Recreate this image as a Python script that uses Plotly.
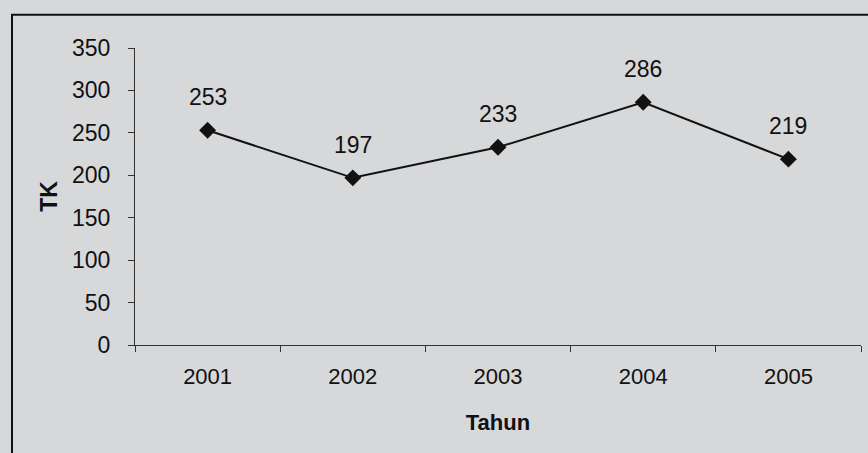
import plotly.graph_objects as go

years = ["2001", "2002", "2003", "2004", "2005"]
tk_values = [253, 197, 233, 286, 219]
y_ticks = [0, 50, 100, 150, 200, 250, 300, 350]

FONT = "Liberation Sans, Arial, sans-serif"
BG = "#d7d8da"

fig = go.Figure()
fig.add_trace(go.Scatter(
    x=years, y=tk_values, mode="lines+markers",
    line=dict(color="#111111", width=2),
    marker=dict(symbol="diamond", size=13, color="#111111"),
    showlegend=False, hoverinfo="skip",
))

for i, v in enumerate(tk_values):
    fig.add_annotation(x=i, y=v, text=str(v), showarrow=False, yshift=33,
                       font=dict(family=FONT, size=23, color="#111111"))

# outer border of the printed chart box
fig.add_shape(type="rect", xref="paper", yref="paper",
              x0=-0.1694, x1=1.2, y0=-0.6, y1=1.112,
              line=dict(color="#111111", width=2), fillcolor="rgba(0,0,0,0)",
              layer="below")

fig.update_layout(
    width=868, height=453,
    margin=dict(l=135, r=7, t=48, b=108, autoexpand=False),
    paper_bgcolor=BG, plot_bgcolor=BG,
    font=dict(family=FONT, size=22, color="#111111"),
    xaxis=dict(
        type="category", range=[-0.5, 4.5], automargin=False,
        showline=True, linecolor="#333333", linewidth=1,
        ticks="outside", tickson="boundaries", ticklen=6, tickcolor="#333333",
        showgrid=False, zeroline=False,
        tickfont=dict(family=FONT, size=22, color="#111111"),
        ticklabelstandoff=12,
        title=dict(text="<b>Tahun</b>", standoff=26,
                   font=dict(family=FONT, size=22, color="#111111")),
    ),
    yaxis=dict(
        range=[0, 350], tickvals=y_ticks, automargin=False,
        showline=True, linecolor="#333333", linewidth=1,
        ticks="outside", ticklen=6, tickcolor="#333333",
        showgrid=False, zeroline=False,
        tickfont=dict(family=FONT, size=23, color="#111111"),
        ticklabelstandoff=13,
        title=dict(text="<b>TK</b>", standoff=7,
                   font=dict(family=FONT, size=23, color="#111111")),
    ),
)

fig.write_html(
    "out.html",
    config={"displayModeBar": False},
    post_script="document.body.style.margin='0';document.body.style.background='%s';" % BG,
)
